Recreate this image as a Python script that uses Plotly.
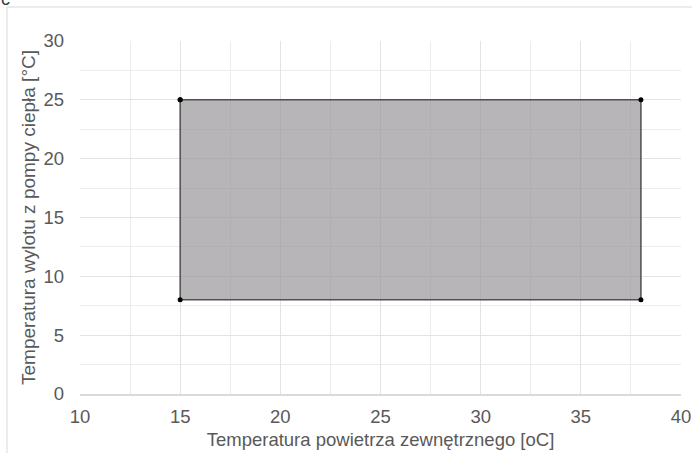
import plotly.graph_objects as go

# Data: operating envelope corners (outdoor air temp, outlet temp)
x_vals = [15, 38, 38, 15, 15]
y_vals = [25, 25, 8, 8, 25]
x_title = "Temperatura powietrza zewnętrznego [oC]"
y_title = "Temperatura wylotu z pompy ciepła [°C]"

W, H = 692, 453
ml, mr, mt, mb = 80, 11, 41, 59
pw, ph = W - ml - mr, H - mt - mb

def px(x):
    return (x - ml) / pw

def py(y):
    return (H - mb - y) / ph

fig = go.Figure()
fig.add_trace(go.Scatter(
    x=x_vals, y=y_vals, mode="lines+markers",
    fill="toself", fillcolor="rgba(153,150,152,0.70)",
    line=dict(color="#505050", width=1.5),
    marker=dict(color="black", size=5),
    hoverinfo="skip", showlegend=False,
))

font_family = "Liberation Sans, Arial, sans-serif"
FS = 18.5
axis_common = dict(
    showgrid=True, gridcolor="#e3e3e3", gridwidth=1,
    zeroline=False, ticks="", automargin=False,
    tickfont=dict(family=font_family, size=FS, color="#595959"),
    minor=dict(showgrid=True, gridcolor="#ececec", gridwidth=1),
)

fig.update_layout(
    width=W, height=H,
    margin=dict(l=ml, r=mr, t=mt, b=mb),
    paper_bgcolor="white", plot_bgcolor="white",
    font=dict(family=font_family, color="#595959"),
    xaxis=dict(range=[10, 40], dtick=5, tick0=10,
               minor_dtick=2.5, ticklabelstandoff=5,
               showline=True, linecolor="#d9d9d9", linewidth=1.5, mirror=False,
               title=dict(text=x_title, font=dict(size=FS, color="#595959"), standoff=7),
               **axis_common),
    yaxis=dict(range=[0, 30], dtick=5, tick0=0,
               minor_dtick=2.5, ticklabelstandoff=15,
               title=dict(text=y_title, font=dict(size=19, color="#595959"), standoff=2),
               **axis_common),
    shapes=[dict(type="rect", xref="paper", yref="paper",
                 x0=px(7), x1=px(720), y0=py(480), y1=py(7),
                 line=dict(color="#d9d9d9", width=1), fillcolor="rgba(0,0,0,0)",
                 layer="below")],
    annotations=[dict(text="c", xref="paper", yref="paper",
                      x=px(5), y=py(-1), xanchor="center", yanchor="middle",
                      showarrow=False, font=dict(size=18, color="#404040"))],
)

fig.write_html("out.html", config={"displayModeBar": False},
               post_script="document.body.style.margin='0';")
